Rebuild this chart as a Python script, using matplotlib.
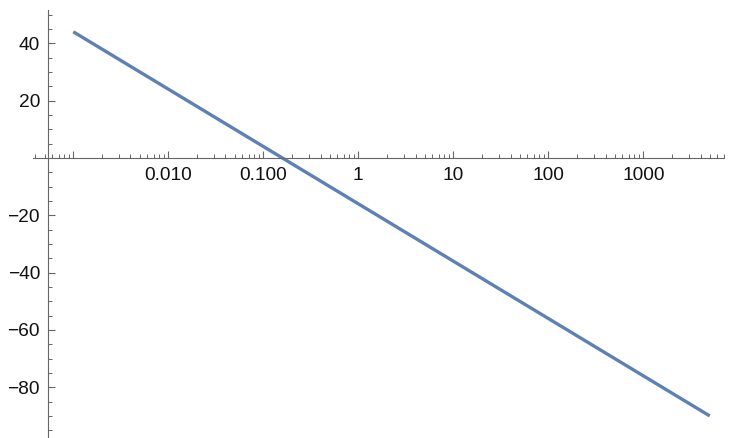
import matplotlib
matplotlib.use("Agg")
import matplotlib.pyplot as plt
import numpy as np

# Data (straight line on log-linear axes)
x_vals = [0.001, 5000]
y_vals = [44, -90]

x_major = [0.001, 0.01, 0.1, 1, 10, 100, 1000]
x_labels = ["", "0.010", "0.100", "1", "10", "100", "1000"]
y_major = [-80, -60, -40, -20, 20, 40]
y_labels = ["\u221280", "\u221260", "\u221240", "\u221220", "20", "40"]

plt.rcParams['font.family'] = ['Liberation Sans', 'DejaVu Sans']

W, H = 742, 438
fig = plt.figure(figsize=(W / 100, H / 100), dpi=100)
ax = fig.add_axes([33 / W, 0, 691 / W, 428 / H])
ax.patch.set_alpha(0)

ax.plot(x_vals, y_vals, color='#5E81B5', lw=2.4, solid_capstyle='butt')

ax.set_xscale('log')
ax.set_xlim(10 ** -3.424, 10 ** 3.849)
ax.set_ylim(-97.7, 51.6)

axis_col = '#666666'
for s in ['top', 'right']:
    ax.spines[s].set_visible(False)
ax.spines['bottom'].set_position(('data', 0))
ax.spines['left'].set_position(('data', 10 ** -3.27))
for s in ['bottom', 'left']:
    ax.spines[s].set_color(axis_col)
    ax.spines[s].set_linewidth(0.8)

ax.set_xticks(x_major)
ax.set_xticklabels(x_labels)
minor_x = []
for d in range(-4, 4):
    for m in range(2, 10):
        v = m * 10.0 ** d
        if 10 ** -3.424 <= v <= 10 ** 3.849:
            minor_x.append(v)
ax.set_xticks(minor_x, minor=True)

ax.set_yticks(y_major)
ax.set_yticklabels(y_labels)
minor_y = [v for v in range(-95, 55, 5) if v % 20 != 0]
ax.set_yticks(minor_y, minor=True)

ax.tick_params(axis='both', which='both', direction='in', color=axis_col,
               labelcolor='#111111', labelsize=13.8)
ax.tick_params(axis='both', which='major', length=5.2, width=0.8)
ax.tick_params(axis='both', which='minor', length=3, width=0.7)
ax.tick_params(axis='x', which='major', pad=6.5)
ax.tick_params(axis='y', which='major', pad=5.5)

fig.savefig('out.png', dpi=100)
